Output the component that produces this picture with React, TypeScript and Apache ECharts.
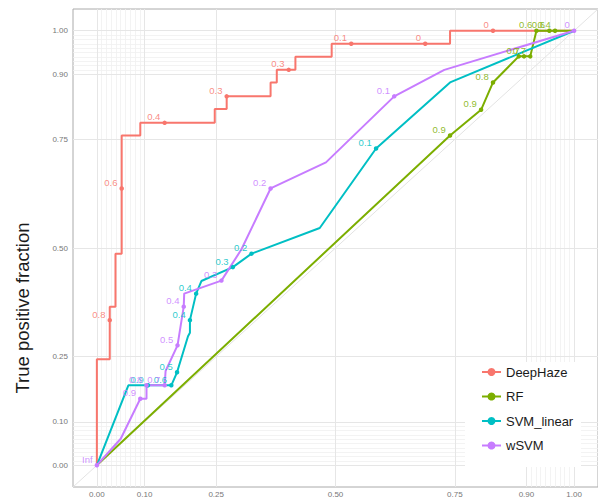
import React, { useEffect, useRef } from "react";
import * as echarts from "echarts";

// ---- data ----
const seriesNames = ["DeepHaze", "RF", "SVM_linear", "wSVM"];
const seriesColors = ["#F8766D", "#7CAE00", "#00BFC4", "#C77CFF"];

// null = plain vertex, "" = point without label, text = point with cutoff label
const dhX = [0, 0, 0.027, 0.027, 0.027, 0.039, 0.039, 0.052, 0.052, 0.052, 0.091, 0.091, 0.142, 0.247, 0.247, 0.272, 0.272, 0.364, 0.364, 0.377, 0.377, 0.402, 0.416, 0.416, 0.492, 0.492, 0.533, 0.688, 0.74, 0.74, 0.83, 1];
const dhY = [0, 0.244, 0.244, 0.334, 0.365, 0.365, 0.487, 0.487, 0.637, 0.759, 0.759, 0.788, 0.788, 0.788, 0.82, 0.82, 0.849, 0.849, 0.881, 0.881, 0.91, 0.91, 0.91, 0.94, 0.94, 0.97, 0.97, 0.97, 0.97, 1, 1, 1];
const dhLab = [null, null, null, "0.8", null, null, null, null, "0.6", null, null, null, "0.4", null, null, null, "0.3", null, null, null, null, "0.3", null, null, null, null, "0.1", "0", null, null, "0", null];

const rfX = [0, 0.74, 0.805, 0.83, 0.884, 0.895, 0.908, 0.921, 0.948, 0.96, 1];
const rfY = [0, 0.759, 0.818, 0.881, 0.941, 0.941, 0.941, 1, 1, 1, 1];
const rfLab = [null, "0.9", "0.9", "0.8", "", "0.7", "0.7", "0.6", "0.6", "0.4", null];

const svX = [0, 0.066, 0.107, 0.156, 0.168, 0.191, 0.195, 0.195, 0.208, 0.219, 0.285, 0.324, 0.467, 0.585, 0.74, 1];
const svY = [0, 0.184, 0.184, 0.184, 0.214, 0.297, 0.305, 0.334, 0.395, 0.424, 0.456, 0.487, 0.546, 0.729, 0.881, 1];
const svLab = [null, null, "0.9", "0.6", "0.5", null, null, "0.4", "0.4", null, "0.3", "0.2", null, "0.1", null, null];

const wsX = [0, 0.05, 0.091, 0.104, 0.104, 0.142, 0.144, 0.169, 0.182, 0.183, 0.261, 0.303, 0.364, 0.48, 0.623, 0.728, 1];
const wsY = [0, 0.061, 0.153, 0.153, 0.184, 0.184, 0.217, 0.276, 0.365, 0.395, 0.425, 0.497, 0.637, 0.697, 0.849, 0.91, 1];
const wsLab = ["Inf", null, "0.9", null, "0.8", "0.7", null, "0.5", "0.4", null, "0.3", null, "0.2", null, "0.1", null, "0"];

const majorTicks = [0, 0.1, 0.25, 0.5, 0.75, 0.9, 1];
const minorTicks = [0.01, 0.02, 0.03, 0.04, 0.05, 0.06, 0.07, 0.08, 0.09, 0.91, 0.92, 0.93, 0.94, 0.95, 0.96, 0.97, 0.98, 0.99];
const refLine = [[-0.05, -0.05], [1.05, 1.05]];

const yTitle = "True positive fraction";

const FONT = "Liberation Sans, Arial, sans-serif";

function buildData(xs: number[], ys: number[], labs: (string | null)[]) {
  return xs.map((x, i) => {
    const l = labs[i];
    if (l === null) return { value: [x, ys[i]], symbol: "none" };
    if (l === "") return { value: [x, ys[i]], symbol: "circle" };
    return { value: [x, ys[i]], symbol: "circle", label: { show: true, formatter: l } };
  });
}

export default function App() {
  const ref = useRef<HTMLDivElement>(null);
  useEffect(() => {
    if (!ref.current) return;
    const chart = echarts.init(ref.current, null, { renderer: "svg" });
    const allData = [
      buildData(dhX, dhY, dhLab),
      buildData(rfX, rfY, rfLab),
      buildData(svX, svY, svLab),
      buildData(wsX, wsY, wsLab),
    ];
    const dataSeries = seriesNames.map((name, k) => ({
      name,
      type: "line",
      data: allData[k],
      z: 3,
      symbol: "circle",
      symbolSize: 4.5,
      showSymbol: true,
      showAllSymbol: true,
      clip: false,
      lineStyle: { color: seriesColors[k], width: 2 },
      itemStyle: { color: seriesColors[k] },
      label: {
        show: false,
        position: "left",
        distance: 2,
        offset: [0, -6],
        fontSize: 9.5,
        fontFamily: FONT,
        color: seriesColors[k],
        opacity: 0.85,
      },
      emphasis: { disabled: true },
    }));
    const gridSeries = {
      type: "line",
      data: [],
      z: 1,
      silent: true,
      markLine: {
        silent: true,
        z: 1,
        zlevel: 0,
        symbol: ["none", "none"],
        label: { show: false },
        animation: false,
        data: [
          ...minorTicks.map((v) => ({ xAxis: v, lineStyle: { color: "#f0f0f0", width: 0.8, type: "solid" } })),
          ...minorTicks.map((v) => ({ yAxis: v, lineStyle: { color: "#f0f0f0", width: 0.8, type: "solid" } })),
          ...majorTicks.map((v) => ({ xAxis: v, lineStyle: { color: "#e6e6e6", width: 1, type: "solid" } })),
          ...majorTicks.map((v) => ({ yAxis: v, lineStyle: { color: "#e6e6e6", width: 1, type: "solid" } })),
        ],
      },
    };
    const refSeries = {
      type: "line",
      data: refLine,
      z: 2,
      silent: true,
      symbol: "none",
      lineStyle: { color: "#e3e3e3", width: 1 },
    };
    const axisCommon = {
      type: "value",
      min: -0.05,
      max: 1.05,
      splitLine: { show: false },
      axisLine: { show: false },
      axisTick: {
        show: true,
        customValues: majorTicks,
        length: 3,
        lineStyle: { color: "#999" },
      },
    };
    chart.setOption({
      animation: false,
      backgroundColor: "#fff",
      grid: {
        left: 73,
        top: 9,
        width: 525,
        height: 478,
        show: true,
        borderColor: "#aaa",
        borderWidth: 1,
        backgroundColor: "transparent",
      },
      xAxis: {
        ...axisCommon,
        axisLabel: {
          customValues: majorTicks,
          formatter: (v: number) => v.toFixed(2),
          fontSize: 8,
          color: "#777",
          fontFamily: FONT,
          margin: 3,
        },
      },
      yAxis: {
        ...axisCommon,
        axisLabel: {
          customValues: majorTicks,
          formatter: (v: number) => v.toFixed(2),
          fontSize: 8,
          color: "#777",
          fontFamily: FONT,
          margin: 5,
        },
      },
      legend: {
        data: seriesNames,
        orient: "vertical",
        left: 481,
        top: 365,
        padding: 0,
        itemWidth: 19,
        itemHeight: 10,
        itemGap: 10.5,
        z: 6,
        textStyle: { fontSize: 13, color: "#1a1a1a", fontFamily: FONT, lineHeight: 14 },
        selectedMode: false,
      },
      graphic: {
        elements: [
          {
            type: "rect",
            z: 5,
            shape: { x: 465, y: 362, width: 116, height: 105 },
            style: { fill: "#fff" },
            silent: true,
          },
          {
            type: "text",
            z: 5,
            x: 22,
            y: 308,
            rotation: Math.PI / 2,
            style: {
              text: yTitle,
              fontSize: 18.5,
              fontFamily: FONT,
              fill: "#1a1a1a",
              align: "center",
              verticalAlign: "middle",
            },
          },
        ],
      },
      series: [gridSeries, refSeries, ...dataSeries],
    });
    return () => chart.dispose();
  }, []);
  return (
    <div
      ref={ref}
      style={{ position: "fixed", left: 0, top: 0, width: 598, height: 499 }}
    />
  );
}
